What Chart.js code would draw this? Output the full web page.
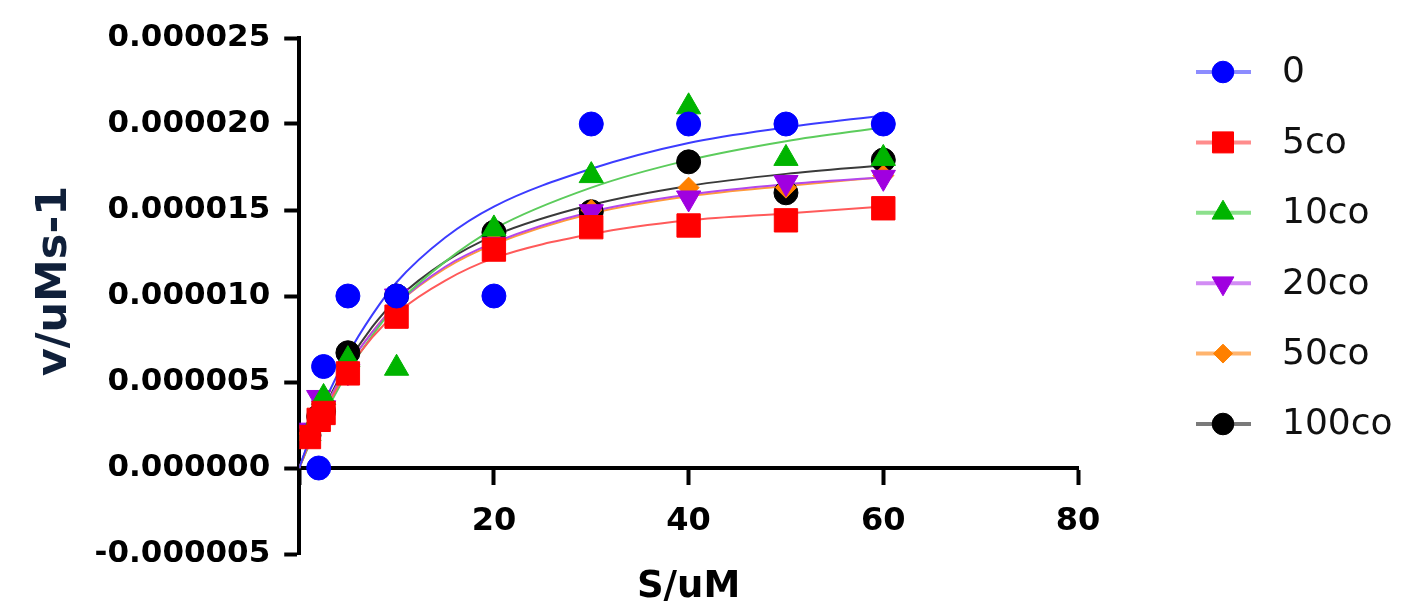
<!DOCTYPE html>
<html>
<head>
<meta charset="utf-8">
<script src="https://cdn.jsdelivr.net/npm/chart.js@4.4.1/dist/chart.umd.min.js"></script>
<style>
  html, body { margin: 0; padding: 0; background: #fff; }
  #wrap { width: 1409px; height: 613px; }
</style>
</head>
<body>
<div id="wrap"><canvas id="grafico" width="1409" height="613"></canvas></div>
<script>
// concentracion de sustrato (uM)
const sustrato = [1, 2, 2.5, 5, 10, 20, 30, 40, 50, 60];

// velocidades medidas, en unidades de 1e-6 (v/uMs-1)
const v0    = [null, 0, 5.9, 10, 10, 10, 20, 20, 20, 20];
const v5    = [1.8, 2.8, 3.2, 5.5, 8.8, 12.7, 14.0, 14.1, 14.4, 15.1];
const v10   = [2.0, 3.0, 4.1, 6.3, 5.8, 13.9, 17.0, 21.0, 18.0, 18.0];
const v20   = [2.2, 4.1, 3.5, 5.6, 10.0, 13.0, 14.9, 15.7, 16.6, 16.9];
const v50   = [2.0, 3.0, 3.3, 5.7, 9.9, 13.2, 15.0, 16.3, 16.3, 17.0];
const v100  = [1.9, 3.0, 3.3, 6.7, 10.0, 13.7, 14.9, 17.8, 16.0, 17.9];

// curvas ajustadas
const sAjuste  = [0, 1, 2.5, 5, 7.5, 10, 15, 20, 30, 40, 50, 60];
const ajuste0   = [0, 1.6, 3.7, 6.6, 8.9, 10.8, 13.4, 15.2, 17.4, 18.9, 19.8, 20.5];
const ajuste5   = [0, 1.4, 3.2, 5.7, 7.6, 9.0, 10.9, 12.2, 13.6, 14.4, 14.8, 15.2];
const ajuste10  = [0, 1.3, 3.0, 5.6, 7.7, 9.5, 12.0, 13.9, 16.3, 17.9, 19.0, 19.8];
const ajuste20  = [0, 1.4, 3.3, 5.9, 7.9, 9.5, 11.7, 13.1, 14.9, 15.9, 16.5, 16.9];
const ajuste50  = [0, 1.4, 3.3, 5.9, 7.9, 9.5, 11.6, 13.0, 14.8, 15.8, 16.4, 16.9];
const ajuste100 = [0, 1.5, 3.4, 6.1, 8.2, 9.8, 12.0, 13.5, 15.3, 16.4, 17.1, 17.6];

const series = ['0', '5co', '10co', '20co', '50co', '100co'];
const yTickLabels = ['-0.000005', '0.000000', '0.000005', '0.000010', '0.000015', '0.000020', '0.000025'];
const xTickLabels = ['', '20', '40', '60', '80'];

const medidas = [v0, v5, v10, v20, v50, v100];
const ajustes = [ajuste0, ajuste5, ajuste10, ajuste20, ajuste50, ajuste100];

const colorPunto = ['#0000ff', '#ff0000', '#00b400', '#a000e0', '#ff8000', '#000000'];
const colorLinea = ['#3c3cff', '#ff5a5a', '#5ccc5c', '#b448ec', '#ff9a3c', '#3a3a3a'];
const colorLeyenda = ['#8c8cff', '#ff8c8c', '#8ce08c', '#d28cf4', '#ffb46e', '#7a7a7a'];
const estilos = ['circle', 'rect', 'triangle', 'triangle', 'rectRot', 'circle'];
const radios = [12, 16.5, 14, 14, 10.5, 12];
const giros = [0, 0, 0, 180, 0, 0];

const fuente = '"DejaVu Sans", Arial, sans-serif';

function puntos(xs, ys) {
  const out = [];
  xs.forEach((x, i) => { if (ys[i] !== null) out.push({ x: x, y: ys[i] }); });
  return out;
}

const datasets = [];
series.forEach((nombre, i) => {
  datasets.push({
    label: nombre,
    data: puntos(sustrato, medidas[i]),
    showLine: false,
    pointStyle: estilos[i],
    pointRotation: giros[i],
    pointRadius: radios[i],
    pointBackgroundColor: colorPunto[i],
    pointBorderColor: colorPunto[i],
    pointBorderWidth: 1,
    order: 1
  });
});
series.forEach((nombre, i) => {
  datasets.push({
    label: nombre + ' ajuste',
    data: puntos(sAjuste, ajustes[i]),
    showLine: true,
    borderColor: colorLinea[i],
    borderWidth: 2,
    pointRadius: 0,
    cubicInterpolationMode: 'monotone',
    order: 10
  });
});

const leyenda = {
  id: 'leyenda',
  afterDraw(chart) {
    const ctx = chart.ctx;
    const x0 = 1196;
    series.forEach((nombre, i) => {
      const y = 72 + i * 70.4;
      ctx.save();
      ctx.strokeStyle = colorLeyenda[i];
      ctx.lineWidth = 4;
      ctx.beginPath();
      ctx.moveTo(x0, y);
      ctx.lineTo(x0 + 55, y);
      ctx.stroke();
      ctx.fillStyle = colorPunto[i];
      ctx.strokeStyle = colorPunto[i];
      ctx.lineWidth = 1;
      Chart.helpers.drawPoint(ctx, {
        pointStyle: estilos[i], radius: radios[i] * 0.9, rotation: giros[i], borderWidth: 1
      }, x0 + 27, y);
      ctx.fillStyle = '#111';
      ctx.font = '36px ' + fuente;
      ctx.textBaseline = 'middle';
      ctx.textAlign = 'left';
      ctx.fillText(nombre, x0 + 86, y + 1);
      ctx.restore();
    });
  }
};

new Chart(document.getElementById('grafico'), {
  type: 'scatter',
  data: { datasets: datasets },
  plugins: [leyenda],
  options: {
    responsive: false,
    animation: false,
    layout: { padding: { left: 29, top: 38, right: 331, bottom: 59 } },
    plugins: { legend: { display: false }, tooltip: { enabled: false } },
    scales: {
      x: {
        type: 'linear',
        position: { y: 0 },
        min: 0,
        max: 80,
        border: { display: true, color: '#000', width: 4 },
        grid: { drawOnChartArea: false, tickLength: 15, tickWidth: 4, tickColor: '#000' },
        ticks: {
          stepSize: 20,
          padding: 19,
          color: '#000',
          maxRotation: 0,
          font: { family: fuente, size: 32, weight: 'bold' },
          callback: (v, i) => xTickLabels[i]
        },
        title: {
          display: true,
          text: 'S/uM',
          color: '#000',
          font: { family: fuente, size: 37, weight: 'bold' },
          padding: { top: 6, bottom: 0 }
        }
      },
      y: {
        type: 'linear',
        position: 'left',
        min: -5,
        max: 25,
        border: { display: true, color: '#000', width: 4 },
        grid: { drawOnChartArea: false, tickLength: 15, tickWidth: 4, tickColor: '#000' },
        ticks: {
          stepSize: 5,
          padding: 14,
          color: '#000',
          font: { family: fuente, size: 31, weight: 'bold' },
          callback: (v, i) => yTickLabels[i]
        },
        title: {
          display: true,
          text: '  v/uMs-1',
          color: '#10203a',
          font: { family: fuente, size: 43, weight: 'bold' },
          padding: { top: 0, bottom: 0 }
        }
      }
    }
  }
});
</script>
</body>
</html>
